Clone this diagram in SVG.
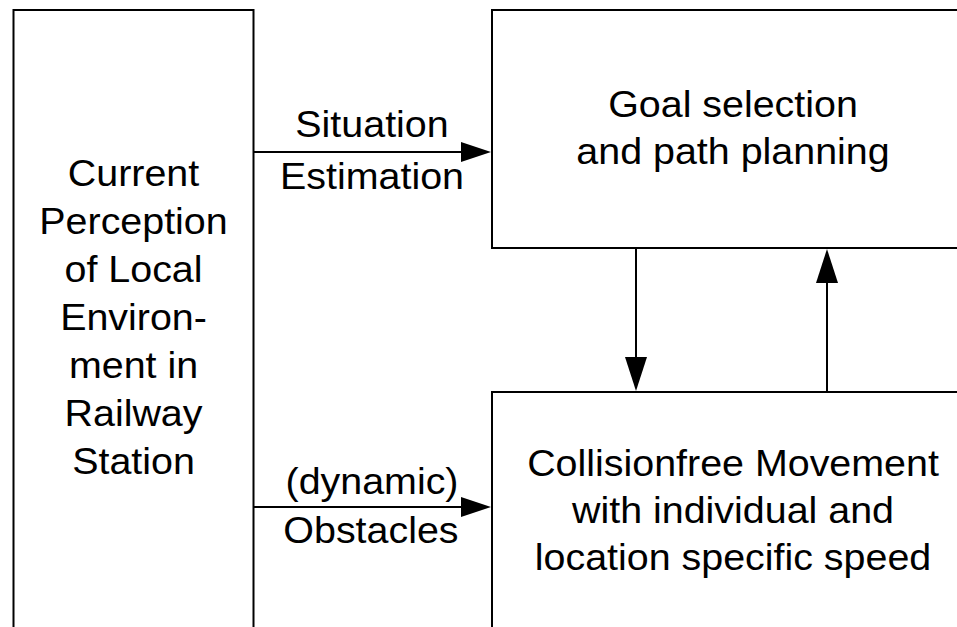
<svg xmlns="http://www.w3.org/2000/svg" width="957" height="627" viewBox="0 0 957 627">
  <style>
    .box { fill: #ffffff; stroke: #000000; stroke-width: 2; }
    .wire { fill: none; stroke: #000000; stroke-width: 2; }
    .lbl { font-family: "Liberation Sans", Arial, sans-serif; font-size: 36.5px; fill: #000000; text-anchor: middle; }
  </style>
  <defs>
    <marker id="headH" markerUnits="userSpaceOnUse" markerWidth="32" markerHeight="22" refX="27" refY="10" orient="auto" viewBox="0 0 32 22">
      <path d="M0,0 L30,10 L0,20 Z" fill="#000000"/>
    </marker>
    <marker id="headV" markerUnits="userSpaceOnUse" markerWidth="36" markerHeight="24" refX="31" refY="11" orient="auto" viewBox="0 0 36 24">
      <path d="M0,0 L34,11 L0,22 Z" fill="#000000"/>
    </marker>
  </defs>
  <rect width="957" height="627" fill="#ffffff"/>

  <g id="perception">
    <rect class="box" x="13.5" y="10" width="240" height="640"/>
    <!-- labels use a slightly widened face: scaled 1.08 horizontally about the box centre -->
    <g transform="translate(133.5 0) scale(1.08 1)">
      <text class="lbl" x="0" y="186">Current</text>
      <text class="lbl" x="0" y="234">Perception</text>
      <text class="lbl" x="0" y="282">of Local</text>
      <text class="lbl" x="0" y="330">Environ-</text>
      <text class="lbl" x="0" y="378">ment in</text>
      <text class="lbl" x="0" y="426">Railway</text>
      <text class="lbl" x="0" y="474">Station</text>
    </g>
  </g>

  <g id="planning">
    <rect class="box" x="492" y="10" width="490" height="238"/>
    <g transform="translate(733 0) scale(1.08 1)">
      <text class="lbl" x="0" y="117">Goal selection</text>
      <text class="lbl" x="0" y="164">and path planning</text>
    </g>
  </g>

  <g id="movement">
    <rect class="box" x="492" y="392" width="490" height="260"/>
    <g transform="translate(733 0) scale(1.08 1)">
      <text class="lbl" x="0" y="476">Collisionfree Movement</text>
      <text class="lbl" x="0" y="523">with individual and</text>
      <text class="lbl" x="0" y="570">location specific speed</text>
    </g>
  </g>

  <g id="connectors">
    <line class="wire" x1="254" y1="152" x2="488" y2="152" marker-end="url(#headH)"/>
    <line class="wire" x1="254" y1="507" x2="488" y2="507" marker-end="url(#headH)"/>
    <line class="wire" x1="636" y1="248" x2="636" y2="388" marker-end="url(#headV)"/>
    <line class="wire" x1="827" y1="392" x2="827" y2="252" marker-end="url(#headV)"/>
    <g transform="translate(372 0) scale(1.08 1)">
      <text class="lbl" x="0" y="137">Situation</text>
      <text class="lbl" x="0" y="189">Estimation</text>
      <text class="lbl" x="0" y="494">(dynamic)</text>
      <text class="lbl" x="-1" y="543">Obstacles</text>
    </g>
  </g>
</svg>
